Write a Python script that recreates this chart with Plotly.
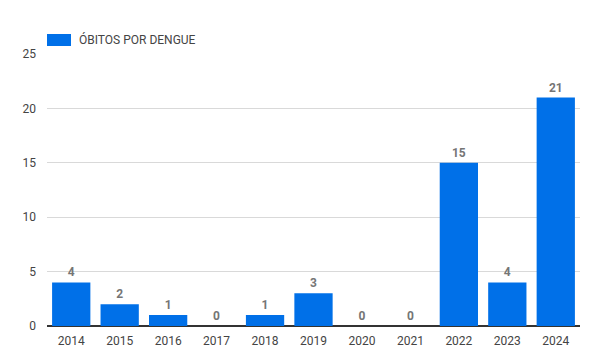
import plotly.graph_objects as go

years = ["2014", "2015", "2016", "2017", "2018", "2019", "2020", "2021", "2022", "2023", "2024"]
obitos = [4, 2, 1, 0, 1, 3, 0, 0, 15, 4, 21]
series_name = "ÓBITOS POR DENGUE"
y_ticks = [0, 5, 10, 15, 20, 25]
bar_color = "#0070E8"

fig = go.Figure()
fig.add_trace(go.Bar(
    x=years, y=obitos, name=series_name,
    marker=dict(color=bar_color, line=dict(width=0)),
    text=[str(v) for v in obitos], textposition="outside",
    textfont=dict(family="Roboto", size=12, color="#757575", weight="bold"),
    cliponaxis=False,
))
# custom legend (wide swatch like the reference)
fig.add_shape(type="rect", xref="paper", yref="paper",
              x0=0, x1=24/533, y0=1 + 8/272, y1=1 + 20/272,
              fillcolor=bar_color, line=dict(width=0))
fig.add_annotation(xref="paper", yref="paper", x=30/533, y=1 + 14/272,
                   xanchor="left", yanchor="middle", showarrow=False,
                   text=series_name, font=dict(family="Roboto", size=12, color="#444444"))
fig.update_layout(
    width=592, height=356,
    margin=dict(l=39, r=20, t=46, b=38, autoexpand=False),
    paper_bgcolor="white", plot_bgcolor="white",
    font=dict(family="Roboto", size=12, color="#444444"),
    bargap=0.21,
    showlegend=False,
    xaxis=dict(showgrid=False, ticks="", showline=False, automargin=False,
               tickfont=dict(size=12, color="#444444"), ticklabelstandoff=6),
    yaxis=dict(range=[0, 25], tickvals=y_ticks, showgrid=True, gridcolor="#d9d9d9",
               zeroline=True, zerolinecolor="#333333", zerolinewidth=2, automargin=False,
               ticks="", tickfont=dict(size=12, color="#444444"), ticklabelstandoff=10),
)
fig.write_html("out.html")
